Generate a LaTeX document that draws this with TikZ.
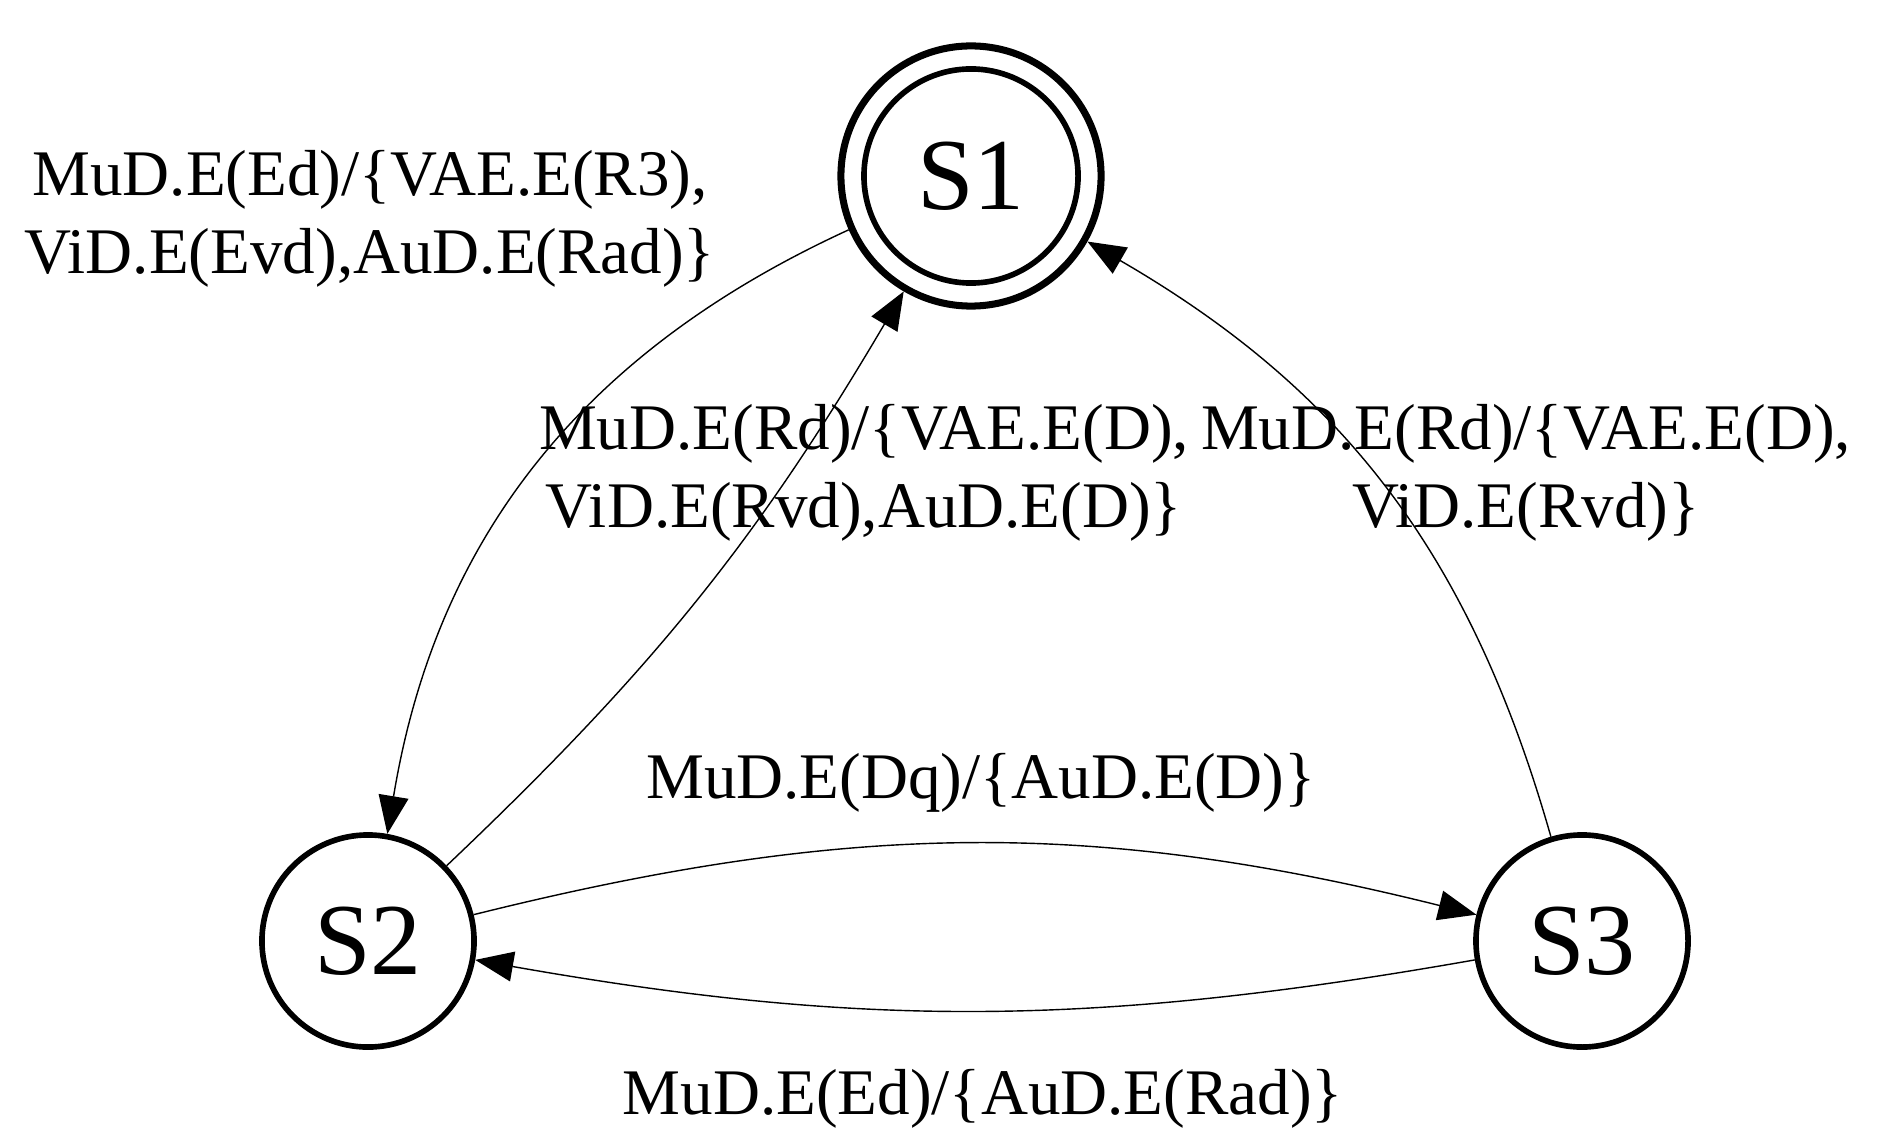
\documentclass[tikz,border=0pt]{standalone}
\usepackage{fontspec}
\setmainfont{Liberation Serif}
\usetikzlibrary{arrows.meta}
\begin{document}
\begin{tikzpicture}[x=0.01cm, y=-0.01cm,
	state/.style={circle, draw, line width=1.6pt, minimum size=2.12cm, inner sep=0pt, font=\fontsize{29}{30}\selectfont},
	trans/.style={-{Triangle[length=0.38cm, width=0.3cm]}, line width=0.4pt},
	lbl/.style={align=center, font=\fontsize{18.5}{22}\selectfont}]
	\useasboundingbox (0,0) rectangle (1882,1146);
	
	\node [state, minimum size=2.6cm, line width=2pt] (s1) at (971,176) {};	% Endzustand
	\node [state, minimum size=2.14cm] (s1i) at (971,176) {S1};
	\node [state] (s2) at (368,941) {S2};
	\node [state] (s3) at (1582,941) {S3};
	
	\draw [trans] (s1) to [bend right=28] (s2);
	\draw [trans] (s2) to [bend right=8] (s1);
	\draw [trans] (s3) to [bend right=22] (s1);
	\draw [trans] (s2) to [bend left=14] (s3);
	\draw [trans] (s3) to [bend left=10] (s2);
	
	\node [lbl] (l12) at (370,219) {MuD.E(Ed)/\{VAE.E(R3),\\ViD.E(Evd),AuD.E(Rad)\}};
	\node [lbl] (l21) at (864,473) {MuD.E(Rd)/\{VAE.E(D),\\ViD.E(Rvd),AuD.E(D)\}};
	\node [lbl] (l31) at (1526,473) {MuD.E(Rd)/\{VAE.E(D),\\ViD.E(Rvd)\}};
	\node [lbl] (l23) at (981,783) {MuD.E(Dq)/\{AuD.E(D)\}};
	\node [lbl] (l32) at (983,1099) {MuD.E(Ed)/\{AuD.E(Rad)\}};
\end{tikzpicture}
\end{document}
